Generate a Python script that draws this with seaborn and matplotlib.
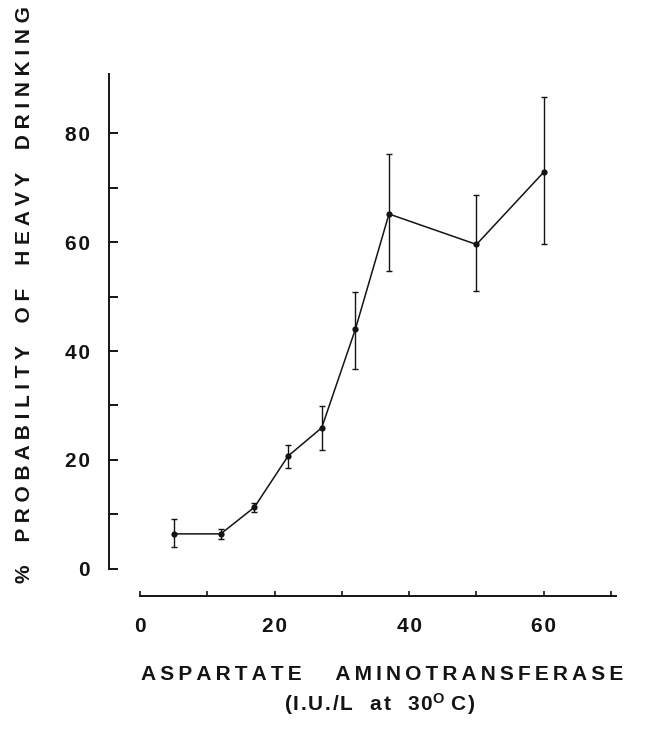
import numpy as np
import pandas as pd
import matplotlib
matplotlib.use("Agg")
import matplotlib.pyplot as plt
import seaborn as sns

# ---- data ----
ast_level = [5, 12, 17, 22, 27, 32, 37, 50, 60]
prob_mean = [6.4, 6.4, 11.3, 20.7, 25.9, 44.0, 65.2, 59.6, 72.9]
prob_low = [3.9, 5.5, 10.5, 18.6, 21.9, 36.8, 54.8, 51.0, 59.7]
prob_high = [9.1, 7.3, 12.0, 22.7, 29.9, 50.9, 76.2, 68.7, 86.7]
x_ticklabels = ["0", "20", "40", "60"]
y_ticklabels = ["0", "20", "40", "60", "80"]
x_title = "ASPARTATE AMINOTRANSFERASE"
x_unit_words = ["(I.U./L", "at", "30"]
y_title = "% PROBABILITY OF HEAVY DRINKING"

rows = []
for x, lo, m, hi in zip(ast_level, prob_low, prob_mean, prob_high):
    for v in (lo, m, hi):
        rows.append({"ast": x, "prob": v})
df = pd.DataFrame(rows)

sns.set_style("ticks")
plt.rcParams["font.family"] = ["Liberation Sans", "DejaVu Sans"]
plt.rcParams["font.weight"] = "bold"
plt.rcParams["mathtext.fontset"] = "custom"
plt.rcParams["mathtext.rm"] = "Liberation Sans:bold"
plt.rcParams["mathtext.it"] = "Liberation Sans:bold"
plt.rcParams["mathtext.bf"] = "Liberation Sans:bold"

W, H = 650, 740
fig = plt.figure(figsize=(W / 100, H / 100), dpi=100)
ax_l, ax_r, ax_b, ax_t = 140, 617.8, 568.7, 68.2
ax = fig.add_axes([ax_l / W, 1 - ax_b / H, (ax_r - ax_l) / W, (ax_b - ax_t) / H])

ink = "#141414"
sns.lineplot(
    data=df, x="ast", y="prob", ax=ax,
    estimator="median",
    errorbar=lambda v: (v.min(), v.max()),
    err_style="bars",
    marker="o", markersize=4.5, markeredgewidth=0,
    color=ink, linewidth=1.1,
    err_kws=dict(capsize=2.0, elinewidth=1.0, capthick=1.0),
)

ax.set_xlim(0, 71)
ax.set_ylim(0, 92)

ax.spines["top"].set_visible(False)
ax.spines["right"].set_visible(False)
ax.spines["left"].set_position(("outward", 30.7 * 72 / 100))
ax.spines["bottom"].set_position(("outward", 27.3 * 72 / 100))
ax.spines["left"].set_bounds(0, 91)
ax.spines["bottom"].set_bounds(0, 70.7)
for s in ("left", "bottom"):
    ax.spines[s].set_linewidth(1.4)
    ax.spines[s].set_color(ink)

HAIR = "\u200a"
def spaced(t, sep=HAIR):
    return sep.join(list(t))

ax.set_xticks(np.arange(0, 80, 20))
ax.set_xticklabels([spaced(t) for t in x_ticklabels])
ax.set_xticks(np.arange(10, 80, 20), minor=True)
ax.set_yticks(np.arange(0, 100, 20))
ax.set_yticklabels([spaced(t) for t in y_ticklabels])
ax.set_yticks(np.arange(10, 90, 20), minor=True)

ax.tick_params(axis="y", which="both", direction="in", length=6.5, width=1.4,
               color=ink, pad=14, labelsize=15, labelcolor=ink)
ax.tick_params(axis="x", which="both", direction="in", length=3.6, width=1.2,
               color=ink, pad=15, labelsize=15, labelcolor=ink)
ax.set_xlabel("")
ax.set_ylabel("")

# letter-spaced titles, spacing chosen so each line spans the reference width
renderer = fig.canvas.get_renderer()

def fit_text(x, y, builder, options, target_w, rotation=0, fs=15):
    best = None
    for opt in options:
        t = fig.text(x, y, builder(opt), rotation=rotation, ha="center",
                     va="center", fontsize=fs, color=ink)
        bb = t.get_window_extent(renderer)
        w = bb.height if rotation else bb.width
        err = abs(w - target_w)
        if best is None or err < best[0]:
            if best is not None:
                best[1].remove()
            best = (err, t)
        else:
            t.remove()
    return best[1]

SEPS = ["\u200a", "\u2009", " ", " \u200a", " \u2009", "  "]

def title_builder(text, word_gap):
    return lambda sep: word_gap.join(sep.join(list(w)) for w in text.split(" "))

a, b, c = x_unit_words
unit_text = (spaced(a) + "   " + spaced(b) + "   " + spaced(c)
             + "$^{\\rm O}$" + " C" + HAIR + ")")

fit_text(25 / W, 1 - 295 / H, title_builder(y_title, "    "), SEPS, 580, rotation=90)
fit_text(382 / W, 1 - 674 / H, title_builder(x_title, "      "), SEPS, 478)
fig.text(380 / W, 1 - 704 / H, unit_text, ha="center", va="center",
         fontsize=15, color=ink)

fig.savefig("out.png", dpi=100)
